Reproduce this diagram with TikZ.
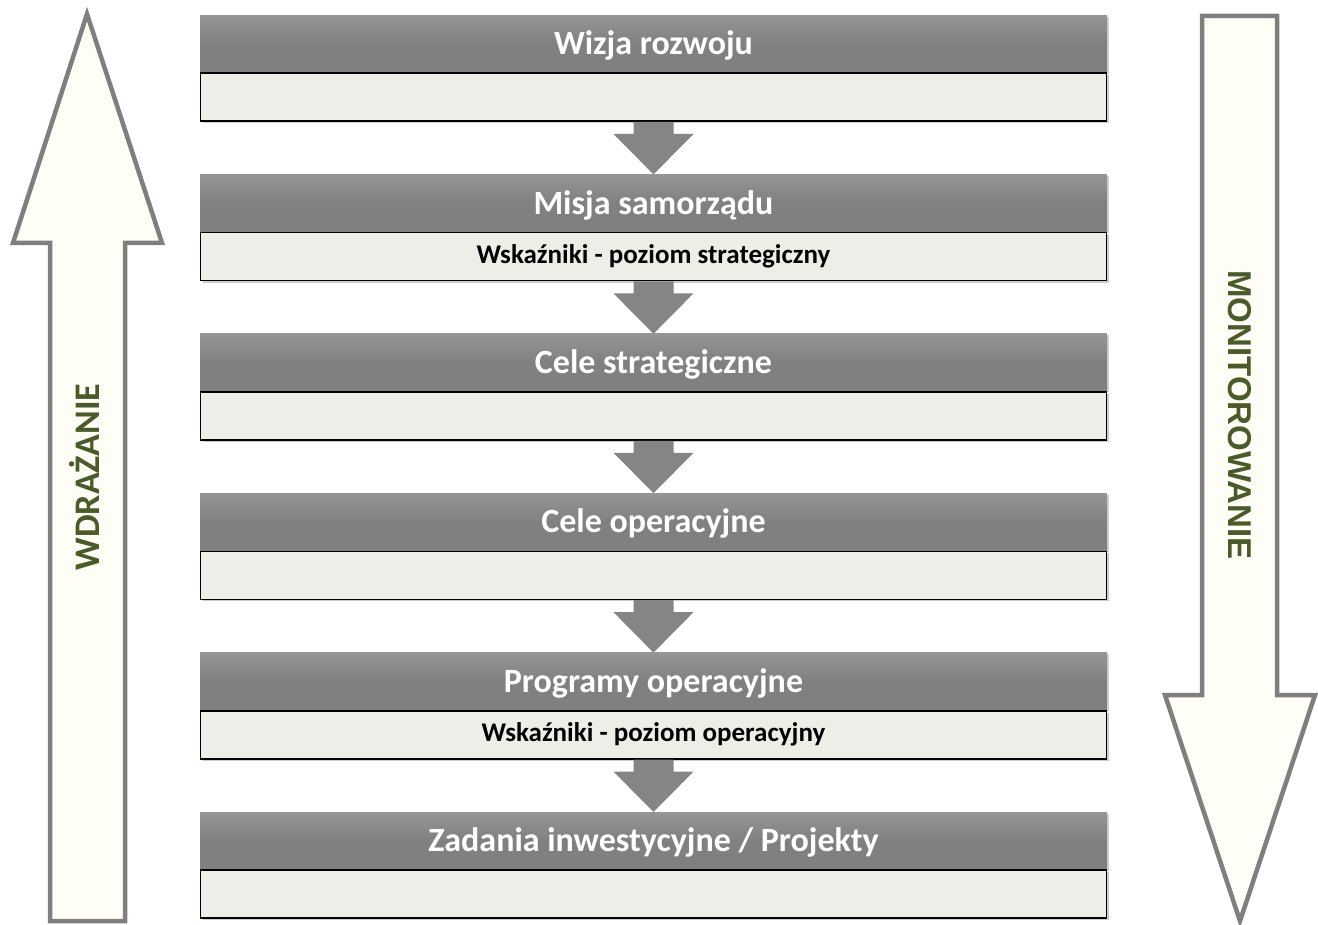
\documentclass[tikz,border=0pt]{standalone}
\usepackage{fontspec}
\setmainfont{Carlito}
\newfontfamily\arialf{Liberation Sans}
\usetikzlibrary{calc,shadows}
\definecolor{hdr}{HTML}{808080}
\definecolor{hdrtop}{HTML}{959595}
\definecolor{lite}{HTML}{ECEFE8}
\definecolor{ivory}{HTML}{FEFEF7}
\definecolor{olive}{HTML}{4A5A28}
\definecolor{arr}{HTML}{858585}
\definecolor{bigline}{HTML}{7F7F7F}
\begin{document}
\begin{tikzpicture}[x=1pt,y=-1pt,
  hbox/.style={rectangle, anchor=north, minimum width=907pt, minimum height=57pt, inner sep=0pt,
     text height=30pt, text depth=8pt,
     top color=hdrtop, bottom color=hdr, middle color=hdr, draw=none, text=white,
     font=\bfseries\fontsize{34}{36}\selectfont,
     drop shadow={shadow xshift=1.5pt, shadow yshift=-1.5pt, fill=black!35, opacity=.5}},
  lbox/.style={rectangle, anchor=north, minimum width=906pt, minimum height=48pt, inner sep=0pt,
     draw=black, line width=1.6pt, fill=lite, text=black,
     font=\bfseries\fontsize{27}{29}\selectfont,
     drop shadow={shadow xshift=2pt, shadow yshift=-2pt, fill=black!40, opacity=.5}},
  flow/.style={fill=arr, draw=none},
  big/.style={draw=bigline, line width=4.5pt, fill=ivory, line join=miter},
  vlabel/.style={text=olive, inner sep=0pt}
]
\useasboundingbox (0,0) rectangle (1318,925);

% big arrows
\draw[big] (50,921) -- (50,243) -- (13,243) -- (87,14) -- (162,243) -- (125,243) -- (125,921) -- cycle;
\draw[big] (1202,16) -- (1277,16) -- (1277,695) -- (1315,695) -- (1240,921) -- (1165,695) -- (1202,695) -- cycle;
\node[vlabel, rotate=90] (wdr) at (84,477) {\bfseries\fontsize{36}{38}\selectfont WDRAŻANIE};
\node[vlabel, rotate=-90] (mon) at (1240,415) {\arialf\bfseries\fontsize{33}{35}\selectfont MONITOROWANIE};

% blocks
\foreach \i/\t/\w [evaluate=\i as \y using 15+159.4*(\i-1)] in
  {1/{Wizja rozwoju}/{},
   2/{Misja samorządu}/{Wskaźniki - poziom strategiczny},
   3/{Cele strategiczne}/{},
   4/{Cele operacyjne}/{},
   5/{Programy operacyjne}/{Wskaźniki - poziom operacyjny},
   6/{Zadania inwestycyjne / Projekty}/{}} {
  \node[hbox] (h\i) at (653.5,\y) {\t};
  \node[lbox] (l\i) at (h\i.south) {\w};
}

% flow arrows
\foreach \a/\b in {1/2,2/3,3/4,4/5,5/6} {
  \fill[flow] ($(l\a.south)+(-20,0)$) -- ($(l\a.south)+(20,0)$) -- ($(l\a.south)+(20,12)$)
    -- ($(l\a.south)+(40,12)$) -- (h\b.north) -- ($(l\a.south)+(-40,12)$)
    -- ($(l\a.south)+(-20,12)$) -- cycle;
}
\end{tikzpicture}
\end{document}
